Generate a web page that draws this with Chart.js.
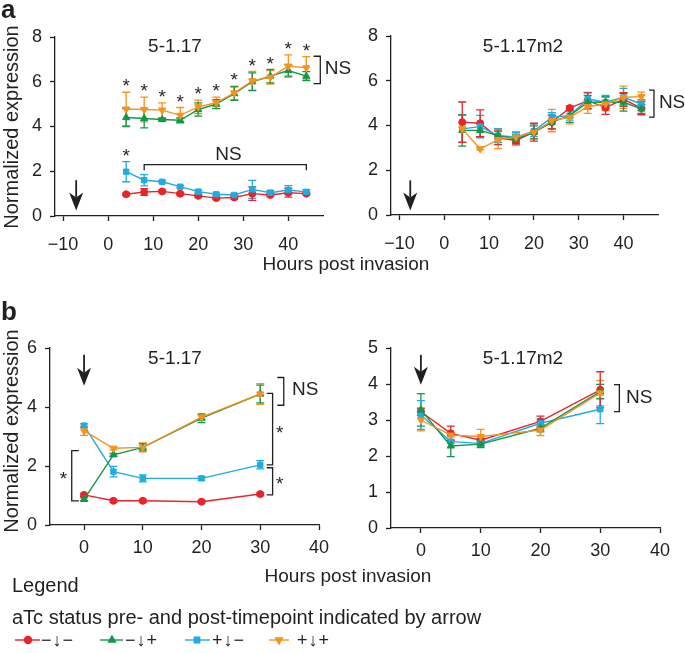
<!DOCTYPE html>
<html>
<head>
<meta charset="utf-8">
<script src="https://cdn.jsdelivr.net/npm/chart.js@4.4.0/dist/chart.umd.min.js"></script>
<style>
  body { margin: 0; background: #fff; }
  #wrap { position: relative; width: 685px; height: 653px; overflow: hidden; font-family: "Liberation Sans", Arial, sans-serif; color: #231f20; }
  #wrap canvas { position: absolute; left: 0; top: 0; }
  .t { position: absolute; white-space: nowrap; line-height: 1; font-size: 19px; }
  .c { transform: translate(-50%, -50%); }
  .l { transform: translateY(-50%); }
  .rot { transform: translate(-50%, -50%) rotate(-90deg); font-size: 20px; }
  .tag { font-weight: bold; font-size: 26px; }
  .lg { font-size: 18px; letter-spacing: 1px; }
</style>
</head>
<body>
<div id="wrap">
  <canvas id="aLeft" width="685" height="653"></canvas>
  <canvas id="aRight" width="685" height="653"></canvas>
  <canvas id="bLeft" width="685" height="653"></canvas>
  <canvas id="bRight" width="685" height="653"></canvas>

  <div class="t tag" style="left:1px;top:-4px">a</div>
  <div class="t tag" style="left:1px;top:298px">b</div>
  <div class="t c" style="left:175px;top:45px">5-1.17</div>
  <div class="t c" style="left:523px;top:45px">5-1.17m2</div>
  <div class="t c" style="left:175px;top:357px">5-1.17</div>
  <div class="t c" style="left:523px;top:357px">5-1.17m2</div>
  <div class="t rot" style="left:11px;top:127px">Normalized expression</div>
  <div class="t rot" style="left:11px;top:431px">Normalized expression</div>
  <div class="t c" style="left:346px;top:263px">Hours post invasion</div>
  <div class="t c" style="left:348px;top:575px">Hours post invasion</div>
  <div class="t l" style="left:12px;top:585px;font-size:20px">Legend</div>
  <div class="t l" style="left:12px;top:617px;font-size:20px">aTc status pre- and post-timepoint indicated by arrow</div>
  <div class="t l lg" style="left:41px;top:640px">−↓−</div>
  <div class="t l lg" style="left:125px;top:640px">−↓+</div>
  <div class="t l lg" style="left:212px;top:640px">+↓−</div>
  <div class="t l lg" style="left:297px;top:640px">+↓+</div>
</div>

<script>
// time points
const hoursA = [4, 8, 12, 16, 20, 24, 28, 32, 36, 40, 44];
const hoursB = [0, 5, 10, 20, 30];

// a, 5-1.17
const aRed = [0.97, 1.07, 1.10, 1.00, 0.90, 0.80, 0.83, 1.00, 0.94, 1.04, 1.00];
const aRedErr = [0.05, 0.15, 0.05, 0.05, 0.05, 0.05, 0.08, 0.30, 0.06, 0.20, 0.06];
const aGreen = [4.40, 4.36, 4.31, 4.28, 4.76, 5.00, 5.47, 6.00, 6.25, 6.50, 6.25];
const aGreenErr = [0.40, 0.42, 0.05, 0.10, 0.30, 0.20, 0.30, 0.40, 0.30, 0.25, 0.20];
const aBlue = [1.98, 1.60, 1.53, 1.31, 1.09, 0.97, 0.94, 1.19, 1.04, 1.16, 1.08];
const aBlueErr = [0.45, 0.25, 0.05, 0.05, 0.06, 0.05, 0.05, 0.40, 0.10, 0.20, 0.10];
const aOrange = [4.78, 4.76, 4.73, 4.50, 4.88, 5.06, 5.50, 6.04, 6.20, 6.70, 6.62];
const aOrangeErr = [0.75, 0.55, 0.33, 0.35, 0.30, 0.25, 0.30, 0.42, 0.30, 0.50, 0.50];

// a, 5-1.17m2
const a2Red = [4.15, 4.10, 3.45, 3.33, 3.70, 4.15, 4.78, 5.11, 4.80, 5.17, 4.78];
const a2RedErr = [0.90, 0.60, 0.30, 0.20, 0.40, 0.30, 0.10, 0.35, 0.30, 0.30, 0.30];
const a2Green = [3.78, 3.78, 3.55, 3.40, 3.70, 4.15, 4.44, 5.04, 5.04, 5.04, 4.74];
const a2GreenErr = [0.70, 0.30, 0.30, 0.20, 0.30, 0.30, 0.30, 0.30, 0.25, 0.40, 0.20];
const a2Blue = [3.85, 3.95, 3.55, 3.48, 3.75, 4.37, 4.44, 5.18, 5.04, 5.26, 4.96];
const a2BlueErr = [0.60, 0.50, 0.30, 0.20, 0.25, 0.20, 0.20, 0.30, 0.30, 0.40, 0.20];
const a2Orange = [3.85, 2.96, 3.37, 3.48, 3.70, 4.22, 4.37, 4.84, 4.96, 5.26, 5.29];
const a2OrangeErr = [0.60, 0.05, 0.40, 0.25, 0.30, 0.50, 0.30, 0.30, 0.30, 0.50, 0.20];

// b, 5-1.17
const bRed = [1.02, 0.82, 0.82, 0.79, 1.05];
const bRedErr = [0.05, 0.05, 0.05, 0.04, 0.05];
const bGreen = [0.87, 2.38, 2.63, 3.62, 4.44];
const bGreenErr = [0.05, 0.05, 0.12, 0.15, 0.30];
const bBlue = [3.37, 1.81, 1.58, 1.58, 2.04];
const bBlueErr = [0.06, 0.18, 0.12, 0.06, 0.14];
const bOrange = [3.19, 2.60, 2.63, 3.66, 4.44];
const bOrangeErr = [0.15, 0.05, 0.15, 0.08, 0.35];

// b, 5-1.17m2
const b2Red = [3.23, 2.63, 2.44, 2.96, 3.84];
const b2RedErr = [0.10, 0.20, 0.05, 0.15, 0.50];
const b2Green = [3.28, 2.28, 2.33, 2.77, 3.79];
const b2GreenErr = [0.45, 0.30, 0.10, 0.10, 0.20];
const b2Blue = [3.14, 2.40, 2.35, 2.91, 3.30];
const b2BlueErr = [0.40, 0.05, 0.05, 0.12, 0.40];
const b2Orange = [3.00, 2.58, 2.54, 2.72, 3.75];
const b2OrangeErr = [0.30, 0.05, 0.20, 0.15, 0.35];

const INK = '#231f20';
const RED = '#e8242b', GREEN = '#15974a', BLUE = '#21ace0', ORANGE = '#f6921e';
const FONT = '"Liberation Sans", Arial, sans-serif';

// style: circle | triangle | rect | down (inverted triangle)
function series(xs, ys, errs, color, style) {
    return {
        data: xs.map((x, i) => ({ x: x, y: ys[i] })),
        errors: errs,
        borderColor: color,
        backgroundColor: color,
        borderWidth: 1.4,
        pointStyle: style === 'down' ? 'triangle' : style,
        pointRotation: style === 'down' ? 180 : 0,
        pointRadius: style === 'rect' ? 3.8 : (style === 'circle' ? 3.5 : 4.2),
        pointBorderWidth: 1,
        tension: 0
    };
}

function fmtTick(v) {
    return v < 0 ? '\u2212' + Math.abs(v) : String(v);
}

// draws error bars + arrows, brackets and labels, all placed through the chart scales
const decor = {
    id: 'decor',
    beforeDatasetsDraw(chart) {
        const { ctx, scales: { x, y } } = chart;
        ctx.save();
        ctx.lineWidth = 1.3;
        chart.data.datasets.forEach(ds => {
            ctx.strokeStyle = ds.borderColor;
            ds.data.forEach((p, i) => {
                const e = ds.errors[i];
                const px = x.getPixelForValue(p.x);
                const top = y.getPixelForValue(p.y + e), bot = y.getPixelForValue(p.y - e);
                ctx.beginPath();
                ctx.moveTo(px, top); ctx.lineTo(px, bot);
                ctx.moveTo(px - 4, top); ctx.lineTo(px + 4, top);
                ctx.moveTo(px - 4, bot); ctx.lineTo(px + 4, bot);
                ctx.stroke();
            });
        });
        ctx.restore();
    },
    afterDatasetsDraw(chart, args, opts) {
        const { ctx, scales: { x, y } } = chart;
        ctx.save();
        ctx.strokeStyle = INK;
        ctx.fillStyle = INK;
        ctx.lineWidth = 1.3;
        (opts.marks || []).forEach(m => {
            if (m.type === 'arrow') {
                const px = x.getPixelForValue(m.x);
                const top = y.getPixelForValue(m.y1), tip = y.getPixelForValue(m.y2);
                const hl = 18, hw = 7, notch = 5;
                ctx.lineWidth = 1.8;
                ctx.beginPath();
                ctx.moveTo(px, top); ctx.lineTo(px, tip - hl + notch);
                ctx.stroke();
                ctx.beginPath();
                ctx.moveTo(px, tip);
                ctx.lineTo(px - hw, tip - hl);
                ctx.lineTo(px, tip - hl + notch);
                ctx.lineTo(px + hw, tip - hl);
                ctx.closePath();
                ctx.fill();
                ctx.lineWidth = 1.3;
            } else if (m.type === 'hbracket') {
                const x1 = x.getPixelForValue(m.x1), x2 = x.getPixelForValue(m.x2);
                const py = y.getPixelForValue(m.y), py2 = y.getPixelForValue(m.yEnd);
                ctx.beginPath();
                ctx.moveTo(x1, py2); ctx.lineTo(x1, py); ctx.lineTo(x2, py); ctx.lineTo(x2, py2);
                ctx.stroke();
            } else if (m.type === 'vbracket') {
                const px = x.getPixelForValue(m.x), arm = x.getPixelForValue(m.xArm);
                const y1 = y.getPixelForValue(m.y1), y2 = y.getPixelForValue(m.y2);
                ctx.beginPath();
                ctx.moveTo(arm, y1); ctx.lineTo(px, y1); ctx.lineTo(px, y2); ctx.lineTo(arm, y2);
                ctx.stroke();
            } else if (m.type === 'text') {
                ctx.font = (m.size || 19) + 'px ' + FONT;
                ctx.textAlign = m.align || 'center';
                ctx.textBaseline = 'middle';
                ctx.fillText(m.text, x.getPixelForValue(m.x), y.getPixelForValue(m.y) + (m.text === '*' ? 5 : 0));
            }
        });
        ctx.restore();
    }
};

function makeChart(id, area, xr, xTicks, yr, yTicks, tickPad, datasets, marks) {
    const axisStyle = {
        grid: { display: true, drawOnChartArea: false, drawTicks: true, tickLength: 5, tickWidth: 1.3, tickColor: INK, color: INK },
        border: { display: true, color: INK, width: 1.3 }
    };
    return new Chart(document.getElementById(id).getContext('2d'), {
        type: 'line',
        data: { datasets: datasets },
        options: {
            responsive: false,
            animation: false,
            events: [],
            layout: {
                autoPadding: false,
                padding: { left: area.left - 40, right: 685 - area.right, top: area.top, bottom: 653 - area.bottom - 40 }
            },
            plugins: { legend: { display: false }, tooltip: { enabled: false }, decor: { marks: marks } },
            scales: {
                x: Object.assign({
                    type: 'linear', min: xr[0], max: xr[1],
                    afterBuildTicks: s => { s.ticks = xTicks.map(v => ({ value: v })); },
                    afterFit: s => { s.height = 40; },
                    ticks: { color: INK, font: { size: 18, family: FONT }, padding: tickPad, maxRotation: 0, autoSkip: false, callback: fmtTick }
                }, axisStyle),
                y: Object.assign({
                    type: 'linear', min: yr[0], max: yr[1],
                    afterBuildTicks: s => { s.ticks = yTicks.map(v => ({ value: v })); },
                    afterFit: s => { s.width = 40; },
                    ticks: { color: INK, font: { size: 18, family: FONT }, padding: 8, callback: fmtTick }
                }, axisStyle)
            }
        },
        plugins: [decor]
    });
}

const ticksA = [-10, 0, 10, 20, 30, 40];
const ticksB = [0, 10, 20, 30, 40];

// stars above the two aTc+ series in panel a, set just over the top whisker
const aStars = hoursA.map((h, i) => ({
    type: 'text', text: '*', x: h,
    y: Math.max(aOrange[i] + aOrangeErr[i], aGreen[i] + aGreenErr[i]) + 0.45
}));

makeChart('aLeft', { left: 55, right: 323, top: 37, bottom: 216 }, [-11.8, 47.7], ticksA, [0, 8], [0, 2, 4, 6, 8], 13, [
    series(hoursA, aOrange, aOrangeErr, ORANGE, 'down'),
    series(hoursA, aGreen, aGreenErr, GREEN, 'triangle'),
    series(hoursA, aBlue, aBlueErr, BLUE, 'rect'),
    series(hoursA, aRed, aRedErr, RED, 'circle')
], aStars.concat([
    { type: 'text', text: '*', x: 4, y: aBlue[0] + aBlueErr[0] + 0.45 },
    { type: 'hbracket', x1: 8, x2: 44, y: 2.3, yEnd: 2.05 },
    { type: 'text', text: 'NS', x: 26.7, y: 2.72 },
    { type: 'vbracket', x: 47.1, xArm: 45.6, y1: 7.14, y2: 5.92 },
    { type: 'text', text: 'NS', x: 48.1, y: 6.6, align: 'left' },
    { type: 'arrow', x: -7.1, y1: 1.6, y2: 0.25 }
]));

makeChart('aRight', { left: 391, right: 658, top: 36, bottom: 215 }, [-11.9, 47.7], ticksA, [0, 8], [0, 2, 4, 6, 8], 13, [
    series(hoursA, a2Orange, a2OrangeErr, ORANGE, 'down'),
    series(hoursA, a2Green, a2GreenErr, GREEN, 'triangle'),
    series(hoursA, a2Blue, a2BlueErr, BLUE, 'rect'),
    series(hoursA, a2Red, a2RedErr, RED, 'circle')
], [
    { type: 'vbracket', x: 46.8, xArm: 45.7, y1: 5.58, y2: 4.37 },
    { type: 'text', text: 'NS', x: 47.9, y: 5.0, align: 'left' },
    { type: 'arrow', x: -7.6, y1: 1.55, y2: 0.2 }
]);

// legend swatches: line with the series marker through it
function drawLegendMarks(chart) {
    const ctx = chart.ctx;
    const items = [
        [15, 40, 28, RED, 'circle', 0, 3.5],
        [100, 123, 112, GREEN, 'triangle', 0, 4],
        [185, 210, 197, BLUE, 'rect', 0, 3.8],
        [269, 289, 279, ORANGE, 'triangle', 180, 4]
    ];
    ctx.save();
    items.forEach(it => {
        ctx.strokeStyle = it[3];
        ctx.fillStyle = it[3];
        ctx.lineWidth = 1.4;
        ctx.beginPath(); ctx.moveTo(it[0], 640); ctx.lineTo(it[1], 640); ctx.stroke();
        Chart.helpers.drawPoint(ctx, { pointStyle: it[4], rotation: it[5], radius: it[6], borderWidth: 1 }, it[2], 640);
    });
    ctx.restore();
}

const bLeftChart = makeChart('bLeft', { left: 50, right: 319, top: 348, bottom: 525 }, [-5.8, 40], ticksB, [0, 6], [0, 2, 4, 6], 7, [
    series(hoursB, bOrange, bOrangeErr, ORANGE, 'down'),
    series(hoursB, bGreen, bGreenErr, GREEN, 'triangle'),
    series(hoursB, bBlue, bBlueErr, BLUE, 'rect'),
    series(hoursB, bRed, bRedErr, RED, 'circle')
], [
    { type: 'vbracket', x: -2.1, xArm: -0.9, y1: 2.52, y2: 0.82 },
    { type: 'text', text: '*', x: -3.5, y: 1.7 },
    { type: 'vbracket', x: 34.0, xArm: 32.9, y1: 5.0, y2: 4.06 },
    { type: 'text', text: 'NS', x: 35.4, y: 4.6, align: 'left' },
    { type: 'vbracket', x: 32.1, xArm: 31.1, y1: 4.46, y2: 2.04 },
    { type: 'text', text: '*', x: 33.3, y: 3.25 },
    { type: 'vbracket', x: 32.1, xArm: 31.1, y1: 1.94, y2: 1.02 },
    { type: 'text', text: '*', x: 33.3, y: 1.55 },
    { type: 'arrow', x: 0, y1: 5.77, y2: 4.72 }
]);
drawLegendMarks(bLeftChart);

makeChart('bRight', { left: 391, right: 660, top: 348, bottom: 528 }, [-5, 40], ticksB, [0, 5], [0, 1, 2, 3, 4, 5], 7, [
    series(hoursB, b2Orange, b2OrangeErr, ORANGE, 'down'),
    series(hoursB, b2Green, b2GreenErr, GREEN, 'triangle'),
    series(hoursB, b2Blue, b2BlueErr, BLUE, 'rect'),
    series(hoursB, b2Red, b2RedErr, RED, 'circle')
], [
    { type: 'vbracket', x: 33.2, xArm: 32.3, y1: 3.98, y2: 3.23 },
    { type: 'text', text: 'NS', x: 34.3, y: 3.62, align: 'left' },
    { type: 'arrow', x: 0, y1: 4.81, y2: 3.98 }
]);
</script>
</body>
</html>
